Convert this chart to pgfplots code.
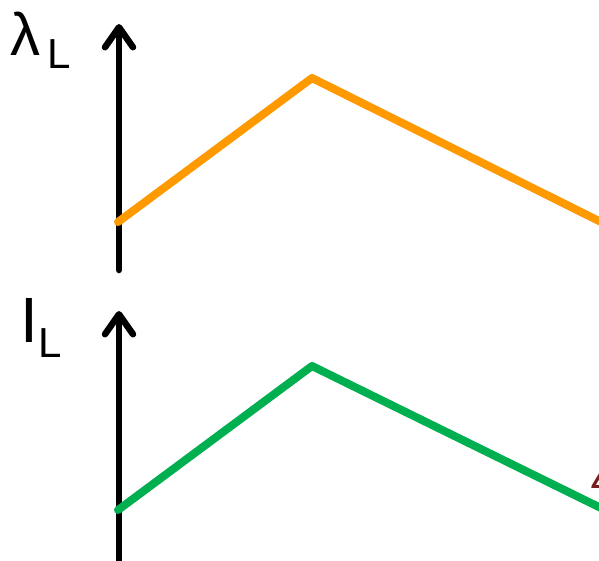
\documentclass[border=0pt]{standalone}
\usepackage{pgfplots}
\pgfplotsset{compat=1.18}
\usepackage{fontspec}
\setmainfont{Liberation Sans}
\usetikzlibrary{arrows.meta}
\definecolor{lorange}{RGB}{255,153,0}
\definecolor{lgreen}{RGB}{0,176,80}
\definecolor{dred}{RGB}{120,30,30}
\begin{document}
\begin{tikzpicture}
\path[use as bounding box] (0,0) rectangle (599pt,560pt);
\clip (0,0) rectangle (599pt,560pt);
\begin{axis}[
  at={(0,0)}, anchor=south west,
  width=599pt, height=560pt, scale only axis,
  xmin=0, xmax=599, ymin=0, ymax=560, y dir=reverse,
  axis lines=none, clip=true,
]
% vertical axis arrows
\addplot[black, line width=6.5pt, line cap=round, -{Straight Barb[length=20pt,width=28pt,line cap=round,line join=round]}] coordinates {(119,270) (119,24)};
\addplot[black, line width=6.5pt, line cap=round, -{Straight Barb[length=20pt,width=28pt,line cap=round,line join=round]}] coordinates {(119,575) (119,311)};
% lambda_L
\addplot[lorange, line width=8pt, line cap=round, line join=round] coordinates {(118,222) (312,78) (603,223)};
% I_L
\addplot[lgreen, line width=8pt, line cap=round, line join=round] coordinates {(118,510) (312,366) (603,509)};
\node[anchor=base west, inner sep=0pt, font=\fontsize{60}{60}\selectfont] at (axis cs:10,55) {λ};
\node[anchor=base west, inner sep=0pt, font=\fontsize{42}{42}\selectfont] at (axis cs:47,68) {L};
\node[anchor=base west, inner sep=0pt, font=\fontsize{64}{64}\selectfont] at (axis cs:20,342) {I};
\node[anchor=base west, inner sep=0pt, font=\fontsize{42}{42}\selectfont] at (axis cs:38,357) {L};
\node[anchor=base west, inner sep=0pt, text=dred, font=\fontsize{40}{40}\selectfont\itshape] at (axis cs:592,488) {Δ};
\end{axis}
\end{tikzpicture}
\end{document}
